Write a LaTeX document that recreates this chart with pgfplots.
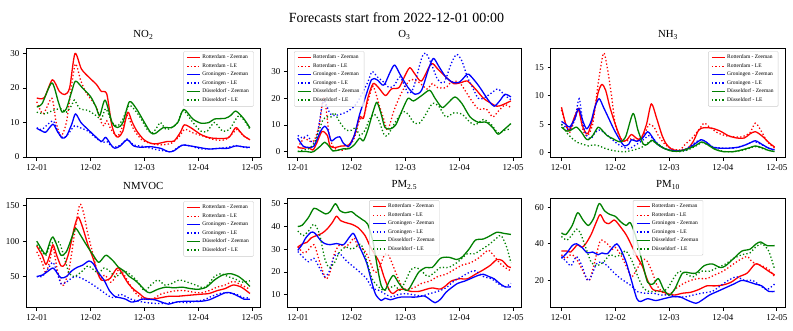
\documentclass[border=0pt]{standalone}
\usepackage{fontspec}
\setmainfont{Liberation Serif}
\usepackage{pgfplots}
\pgfplotsset{compat=1.18}
\definecolor{mred}{HTML}{FF0000}
\definecolor{mblue}{HTML}{0000FF}
\definecolor{mgreen}{HTML}{008000}

\pgfplotsset{
  panel/.style={
    scale only axis, width=234.7pt, height=109.3pt, anchor=south west,
    xmin=-0.2, xmax=4.16,
    xtick={0,1,2,3,4}, xticklabels={12-01,12-02,12-03,12-04,12-05},
    tick pos=left, tick align=outside, major tick length=3.2pt,
    tick style={black, line width=0.7pt},
    axis line style={line width=0.7pt},
    ticklabel style={font=\fontsize{9}{10}\selectfont},
    /pgf/number format/assume math mode=true,
    title style={font=\fontsize{10.8}{12}\selectfont, yshift=-1pt},
    legend style={font=\fontsize{5.5}{6.3}\selectfont, draw=black!20,
      fill=white, fill opacity=0.8, text opacity=1, rounded corners=1pt,
      nodes={inner sep=1.6pt}},
    legend cell align=left,
    legend image code/.code={\draw[#1, line width=1.2pt] (0pt,0pt) -- (13pt,0pt);},
  },
  zee/.style={line width=1.3pt, smooth, tension=0.45, line join=round},
  le/.style={line width=1.3pt, smooth, tension=0.45, dash pattern=on 1.3pt off 2.2pt},
  rz/.style={mred, zee}, rl/.style={mred, le},
  gz/.style={mblue, zee}, gl/.style={mblue, le},
  dz/.style={mgreen, zee}, dl/.style={mgreen, le},
}
\newcommand{\leg}{\legend{Rotterdam - Zeeman, Rotterdam - LE, Groningen - Zeeman, Groningen - LE, Düsseldorf - Zeeman, Düsseldorf - LE}}

\begin{document}
\begin{tikzpicture}
\useasboundingbox (0pt,0pt) rectangle (793pt,330pt);
\node[font=\fontsize{14}{16}\selectfont] at (396.5pt,312pt) {Forecasts start from 2022-12-01 00:00};

% NO2
\begin{axis}[panel, at={(26pt,172.7pt)}, ymin=-0.1, ymax=31.6, ytick={0,10,20,30},
  title={NO\textsubscript{2}}, legend pos=north east]
\addplot[rz] coordinates {(0,17.1)(0.14,17.2)(0.29,22.4)(0.42,19)(0.52,18.1)(0.61,20)(0.71,30)(0.83,25.5)(0.99,22.8)(1.11,21)(1.2,19)(1.3,18.3)(1.39,9.5)(1.46,6.3)(1.52,5.8)(1.6,7.5)(1.69,13)(1.77,10.2)(1.86,7.5)(1.99,5)(2.11,4)(2.22,3.8)(2.43,4.5)(2.55,4.6)(2.67,7.2)(2.74,9.3)(2.86,8.5)(3.05,6.5)(3.24,5.5)(3.55,5.5)(3.66,7.8)(3.71,8.5)(3.84,6.2)(3.96,5)};
\addplot[rl] coordinates {(0,16)(0.12,12.5)(0.28,17)(0.36,10)(0.45,6)(0.55,10)(0.64,20)(0.72,27)(0.82,22)(0.92,18.5)(1.02,16.5)(1.12,14)(1.2,10)(1.25,9)(1.3,10.5)(1.38,8)(1.5,6)(1.6,9)(1.68,12)(1.8,8)(1.95,5)(2.1,4)(2.3,3.5)(2.5,4)(2.65,6)(2.75,8)(2.9,7)(3.1,6)(3.3,5)(3.5,5)(3.65,7)(3.72,8)(3.85,6)(3.96,5)};
\addplot[gz] coordinates {(0,8.3)(0.1,7.5)(0.17,7.2)(0.3,9.5)(0.38,7.5)(0.47,5.5)(0.55,6)(0.65,9.5)(0.72,12.5)(0.82,10)(0.95,8)(1.05,6.5)(1.2,4.5)(1.28,5.7)(1.38,3.5)(1.45,2.5)(1.55,3.2)(1.68,5)(1.8,3.2)(1.95,2.8)(2.1,3)(2.3,2.5)(2.45,1.5)(2.55,1.8)(2.7,3.4)(2.85,3.2)(3.0,2.8)(3.2,2.3)(3.4,2.5)(3.55,2.5)(3.7,3.2)(3.85,2.9)(3.96,2.8)};
\addplot[gl] coordinates {(0,8.5)(0.1,8)(0.3,10.5)(0.4,7)(0.5,5.5)(0.6,7)(0.7,9)(0.8,8.5)(0.95,7.5)(1.1,5.5)(1.22,4.2)(1.3,4.5)(1.4,3)(1.5,3)(1.6,4)(1.68,5.2)(1.8,3.5)(2.0,3)(2.2,2.2)(2.35,1.8)(2.5,1.5)(2.6,2.5)(2.72,3.5)(2.9,3)(3.05,2.3)(3.3,2.4)(3.55,2.8)(3.7,3.3)(3.85,2.8)(3.96,2.6)};
\addplot[dz] coordinates {(0,14.5)(0.1,15.5)(0.28,21.5)(0.4,16)(0.47,13)(0.55,14)(0.65,19)(0.72,22)(0.85,20)(1.0,17.5)(1.1,14.5)(1.17,12)(1.27,16.5)(1.4,10)(1.5,8.5)(1.6,10)(1.72,16)(1.85,14)(2.0,10)(2.12,7)(2.2,6.8)(2.35,8.5)(2.5,8.5)(2.62,10)(2.73,13.8)(2.9,11)(3.05,9.8)(3.2,10)(3.3,11)(3.5,11.2)(3.6,12)(3.7,13.3)(3.85,11)(3.96,8.4)};
\addplot[dl] coordinates {(0,13)(0.15,12.5)(0.3,13.5)(0.45,14)(0.55,13)(0.65,15)(0.7,16.5)(0.8,14)(0.95,13.5)(1.1,12)(1.2,11)(1.28,14)(1.4,10)(1.5,9)(1.6,11)(1.72,15)(1.9,12)(2.05,8)(2.15,7)(2.25,9)(2.3,10)(2.4,8)(2.5,8.5)(2.62,10)(2.72,13.5)(2.9,10)(3.05,7.5)(3.17,7.5)(3.3,10)(3.45,7.5)(3.58,8)(3.7,11)(3.77,12)(3.88,10)(3.96,8)};
\leg
\end{axis}

% O3
\begin{axis}[panel, at={(287pt,172.7pt)}, ymin=-2.2, ymax=38.9, ytick={0,10,20,30},
  title={O\textsubscript{3}}, legend pos=north west]
\addplot[rz] coordinates {(0,1.5)(0.1,1.2)(0.2,1.5)(0.28,0.5)(0.35,3)(0.45,7.5)(0.55,6)(0.6,2)(0.7,1.5)(0.8,2)(0.95,2.5)(1.05,6)(1.15,13)(1.22,12.5)(1.3,20)(1.4,25.5)(1.5,24)(1.63,21)(1.74,23.5)(1.88,24)(1.98,28)(2.08,31.5)(2.18,29)(2.3,26.5)(2.48,33)(2.6,31)(2.75,28)(2.9,25.5)(3.05,26)(3.15,26.5)(3.3,23.5)(3.45,20)(3.6,18)(3.7,17)(3.8,17.5)(3.96,19)};
\addplot[rl] coordinates {(0,1.5)(0.12,5)(0.2,4)(0.3,4)(0.4,10)(0.47,20)(0.52,17)(0.58,7)(0.65,2)(0.75,0.5)(0.85,0.5)(0.95,2)(1.05,5)(1.15,12)(1.22,13)(1.32,20)(1.4,24.5)(1.52,17)(1.6,12)(1.67,8)(1.78,15)(1.88,20)(1.98,24)(2.1,27)(2.25,26)(2.4,23.5)(2.5,25.5)(2.6,24)(2.75,24)(2.85,26)(3.0,26)(3.2,20)(3.35,16)(3.5,16)(3.62,13)(3.72,15)(3.85,17.5)(3.96,16.5)};
\addplot[gz] coordinates {(0,5)(0.1,2)(0.2,1.5)(0.3,2)(0.42,7.5)(0.5,9.5)(0.56,8)(0.62,4)(0.7,5)(0.78,5.5)(0.85,3)(0.95,2)(1.05,6)(1.15,14)(1.25,20)(1.37,27)(1.47,27)(1.57,25)(1.62,25.5)(1.72,30)(1.8,32.5)(1.9,29)(2.05,24)(2.18,21.5)(2.3,23)(2.43,31)(2.52,35)(2.62,32)(2.75,28)(2.88,26)(3.0,26)(3.12,28.5)(3.18,29)(3.35,25)(3.55,19)(3.65,17)(3.75,19)(3.85,21.5)(3.96,20.5)};
\addplot[gl] coordinates {(0,6)(0.1,5)(0.18,6)(0.28,3)(0.35,5)(0.45,17)(0.5,19)(0.58,15)(0.65,13.5)(0.8,14)(0.92,15)(1.05,17)(1.15,20)(1.3,26)(1.38,30)(1.48,28)(1.6,26)(1.7,24)(1.8,25)(1.9,28)(2.05,22)(2.15,24)(2.3,35)(2.38,37)(2.5,32)(2.6,27)(2.72,26)(2.85,33)(2.95,36.5)(3.05,34)(3.15,28)(3.25,24)(3.35,20)(3.45,20)(3.6,22)(3.72,23.5)(3.85,21)(3.96,19.5)};
\addplot[dz] coordinates {(0,0)(0.15,0)(0.25,-0.3)(0.3,0)(0.42,2)(0.5,3.5)(0.58,2)(0.65,0.2)(0.75,0.5)(0.85,1)(0.95,1)(1.05,2.5)(1.15,5)(1.22,4)(1.3,8)(1.4,15)(1.47,18.5)(1.55,14)(1.62,9)(1.72,8.5)(1.82,10)(1.95,16)(2.05,20)(2.15,19)(2.3,21)(2.45,23)(2.55,20)(2.68,16.5)(2.78,18)(2.92,20.5)(3.05,18)(3.2,13)(3.35,11)(3.5,11)(3.62,9)(3.72,6.5)(3.82,8)(3.96,10.5)};
\addplot[dl] coordinates {(0,0)(0.1,0.5)(0.2,1)(0.3,3)(0.38,7)(0.47,12)(0.55,13)(0.62,13)(0.68,14.5)(0.78,11)(0.9,8)(1.0,8)(1.08,9)(1.15,6)(1.25,8)(1.33,12)(1.42,14)(1.5,12)(1.6,6.5)(1.67,6)(1.78,10)(1.95,15)(2.05,14)(2.15,11)(2.25,10.5)(2.35,13)(2.5,18)(2.62,17)(2.75,13)(2.9,14.5)(3.05,14)(3.2,11)(3.3,10)(3.45,12)(3.6,10)(3.72,7)(3.85,8)(3.96,8.5)};
\leg
\end{axis}

% NH3
\begin{axis}[panel, at={(550.7pt,172.7pt)}, ymin=-0.8, ymax=18.4, ytick={0,5,10,15},
  title={NH\textsubscript{3}}, legend pos=north east]
\addplot[rz] coordinates {(0,8)(0.08,5)(0.15,4)(0.25,6.5)(0.32,7.5)(0.38,5)(0.45,3.5)(0.5,3.5)(0.58,6)(0.68,10.5)(0.75,12)(0.82,11)(0.9,8)(1.0,5)(1.1,2.5)(1.15,2)(1.22,2.3)(1.3,3.2)(1.4,2.5)(1.48,2.5)(1.58,5)(1.67,8.6)(1.77,6)(1.87,3)(1.95,1.5)(2.05,0.6)(2.2,0.4)(2.35,0.8)(2.45,2)(2.55,4)(2.65,4.4)(2.8,4.3)(2.95,3.8)(3.1,3)(3.25,2.6)(3.4,2.6)(3.5,3.3)(3.6,3.7)(3.72,3)(3.85,1.8)(3.96,1)};
\addplot[rl] coordinates {(0,7.5)(0.08,5)(0.15,3.5)(0.25,6)(0.32,8)(0.4,4)(0.48,3)(0.58,5)(0.68,12)(0.78,17.5)(0.85,15)(0.93,10)(1.0,5)(1.1,2.5)(1.2,2)(1.3,2.5)(1.42,2.2)(1.55,3.5)(1.63,5)(1.72,4.5)(1.8,3)(1.92,1.5)(2.05,0.7)(2.2,0.5)(2.3,1.5)(2.42,2.5)(2.55,4)(2.65,5.2)(2.75,4.5)(2.9,3.5)(3.05,3)(3.2,2.8)(3.35,2.8)(3.5,3.5)(3.6,5.2)(3.7,4)(3.82,2)(3.96,0.8)};
\addplot[gz] coordinates {(0,5.5)(0.08,5)(0.15,4.5)(0.25,6)(0.32,7.8)(0.4,5.5)(0.47,4.2)(0.55,5.5)(0.62,8)(0.7,9.5)(0.78,8)(0.88,6)(0.98,4)(1.1,2)(1.17,1.2)(1.25,1.5)(1.3,2.3)(1.4,2)(1.5,2.5)(1.6,3.7)(1.67,3)(1.78,1.5)(1.9,0.8)(2.0,0.5)(2.15,0.3)(2.3,0.5)(2.4,1)(2.5,1.7)(2.6,2.3)(2.7,1.8)(2.8,1)(2.95,0.8)(3.1,0.8)(3.3,1)(3.45,1.5)(3.6,2.1)(3.72,1.5)(3.85,0.8)(3.96,0.5)};
\addplot[gl] coordinates {(0,5)(0.08,4.5)(0.15,4)(0.25,6)(0.33,9.5)(0.4,5)(0.47,3)(0.55,2.5)(0.62,3.5)(0.7,4)(0.8,3.5)(0.92,2.5)(1.05,1.5)(1.15,1)(1.25,0.7)(1.35,1.2)(1.45,1.8)(1.55,2.5)(1.62,3)(1.7,2.5)(1.8,1.5)(1.9,0.8)(2.0,0.5)(2.15,0.3)(2.3,0.6)(2.4,1.2)(2.52,2)(2.6,2.3)(2.7,1.8)(2.82,1)(3.0,0.8)(3.2,0.8)(3.35,1.2)(3.45,1.5)(3.58,2)(3.7,1.5)(3.85,0.8)(3.96,0.4)};
\addplot[dz] coordinates {(0,4.5)(0.1,3.8)(0.18,4)(0.28,4.5)(0.38,3.5)(0.45,2.5)(0.5,2.3)(0.58,3)(0.68,4.5)(0.75,4)(0.85,3)(0.95,2.5)(1.05,2)(1.12,2)(1.2,3)(1.33,6.9)(1.42,4)(1.52,1.5)(1.6,1.5)(1.68,2.2)(1.78,1.5)(1.9,0.8)(2.05,0.3)(2.2,0.3)(2.35,0.7)(2.5,1.3)(2.6,1.9)(2.7,1.5)(2.85,0.6)(3.0,0.2)(3.2,0.2)(3.35,0.5)(3.5,0.9)(3.6,1.2)(3.72,0.9)(3.85,0.4)(3.96,0.2)};
\addplot[dl] coordinates {(0,5)(0.1,3.5)(0.2,2.5)(0.3,1.8)(0.4,1.5)(0.5,1.2)(0.6,1.4)(0.7,1.2)(0.8,0.8)(0.95,0.4)(1.1,0.2)(1.2,0.2)(1.35,0.5)(1.5,1)(1.65,2)(1.75,1.8)(1.9,0.8)(2.05,0.3)(2.2,0.2)(2.35,0.5)(2.5,1.2)(2.62,1.8)(2.75,1.2)(2.9,0.5)(3.05,0.2)(3.2,0.2)(3.4,0.5)(3.55,1)(3.62,1.1)(3.78,0.6)(3.96,0.2)};
\leg
\end{axis}

% NMVOC
\begin{axis}[panel, at={(26pt,22.7pt)}, ymin=6.5, ymax=161, ytick={50,100,150},
  title={NMVOC}, legend pos=north east]
\addplot[rz] coordinates {(0,93)(0.1,80)(0.17,67)(0.24,80)(0.3,95)(0.37,80)(0.45,65)(0.52,67)(0.6,85)(0.7,120)(0.77,134)(0.85,120)(0.95,95)(1.05,75)(1.13,55)(1.2,45)(1.3,45)(1.37,48)(1.47,60)(1.52,62)(1.58,55)(1.7,40)(1.8,32)(1.92,25)(2.0,20)(2.15,18)(2.3,20)(2.45,22)(2.6,22)(2.75,23)(2.9,24)(3.05,25)(3.2,26)(3.35,30)(3.5,33)(3.65,38)(3.8,35)(3.96,26)};
\addplot[rl] coordinates {(0,85)(0.1,70)(0.17,55)(0.25,75)(0.3,92)(0.38,60)(0.45,40)(0.5,38)(0.6,60)(0.72,120)(0.8,152)(0.87,140)(0.95,110)(1.05,80)(1.13,55)(1.2,48)(1.27,52)(1.37,42)(1.45,48)(1.52,60)(1.6,55)(1.68,45)(1.8,30)(1.9,22)(2.0,18)(2.15,18)(2.3,25)(2.45,28)(2.6,30)(2.75,30)(2.9,28)(3.05,27)(3.2,30)(3.35,35)(3.5,38)(3.65,43)(3.8,38)(3.96,32)};
\addplot[gz] coordinates {(0,50)(0.1,52)(0.2,57)(0.3,62)(0.38,55)(0.45,48)(0.55,50)(0.65,58)(0.75,63)(0.85,66)(0.97,72)(1.05,68)(1.15,55)(1.25,45)(1.35,30)(1.45,22)(1.55,20)(1.65,18)(1.75,14)(1.85,15)(1.95,18)(2.05,18)(2.2,17)(2.35,13)(2.45,11)(2.6,14)(2.75,15)(2.9,15)(3.05,15)(3.2,17)(3.35,22)(3.5,27)(3.6,27)(3.75,22)(3.85,18)(3.96,18)};
\addplot[gl] coordinates {(0,50)(0.1,50)(0.2,60)(0.3,70)(0.38,55)(0.45,40)(0.55,42)(0.65,48)(0.75,50)(0.9,45)(1.05,38)(1.2,30)(1.35,22)(1.45,20)(1.55,25)(1.65,22)(1.75,18)(1.9,15)(2.05,13)(2.2,12)(2.35,12)(2.5,13)(2.65,14)(2.8,13)(2.95,15)(3.1,17)(3.25,22)(3.4,26)(3.55,27)(3.7,25)(3.85,20)(3.96,20)};
\addplot[dz] coordinates {(0,100)(0.12,85)(0.17,82)(0.25,100)(0.3,106)(0.37,95)(0.45,80)(0.55,85)(0.65,105)(0.72,118)(0.8,110)(0.92,95)(1.05,80)(1.15,70)(1.25,78)(1.3,80)(1.42,72)(1.52,63)(1.62,58)(1.72,50)(1.82,45)(1.92,38)(2.02,30)(2.1,27)(2.25,32)(2.4,35)(2.55,34)(2.7,35)(2.85,33)(3.0,32)(3.15,35)(3.3,45)(3.45,52)(3.6,54)(3.75,50)(3.88,42)(3.96,36)};
\addplot[dl] coordinates {(0,95)(0.1,85)(0.17,80)(0.25,95)(0.35,100)(0.42,98)(0.5,80)(0.6,55)(0.7,50)(0.85,58)(0.95,65)(1.05,60)(1.15,55)(1.25,62)(1.35,58)(1.45,50)(1.52,52)(1.6,58)(1.7,55)(1.85,45)(2.0,30)(2.12,38)(2.25,45)(2.38,38)(2.5,40)(2.65,45)(2.8,42)(2.95,38)(3.1,34)(3.2,40)(3.3,50)(3.42,54)(3.55,50)(3.7,46)(3.8,42)(3.96,44)};
\leg
\end{axis}

% PM2.5
\begin{axis}[panel, at={(287pt,22.7pt)}, ymin=4.5, ymax=52.5, ytick={10,20,30,40,50},
  title={PM\textsubscript{2.5}}, legend style={at={(0.5,0.98)}, anchor=north}]
\addplot[rz] coordinates {(0,31)(0.1,32.5)(0.17,33)(0.25,35)(0.35,36)(0.45,37)(0.55,39)(0.65,42)(0.72,44.5)(0.8,42.5)(0.92,41.5)(1.0,41)(1.12,39.5)(1.25,36)(1.35,31)(1.45,27)(1.52,24)(1.6,18)(1.7,12)(1.77,10.5)(1.85,12)(1.95,12.5)(2.1,11.5)(2.25,11.5)(2.4,12.5)(2.5,13)(2.65,12.5)(2.75,14)(2.85,16)(3.0,17)(3.15,17)(3.3,19)(3.45,21)(3.58,23)(3.7,25.5)(3.8,25)(3.9,22.5)(3.96,22)};
\addplot[rl] coordinates {(0,31)(0.1,28.5)(0.17,29)(0.3,32)(0.4,25)(0.52,17)(0.6,20)(0.68,28)(0.78,32)(0.88,31)(0.98,33)(1.05,35)(1.12,31)(1.22,30)(1.32,26)(1.42,20)(1.5,21)(1.6,27)(1.67,28)(1.75,24)(1.85,18)(1.95,13)(2.05,12.5)(2.15,13)(2.3,15)(2.45,16)(2.6,18)(2.75,19)(2.9,21)(3.05,23)(3.2,24)(3.35,26)(3.5,29)(3.55,29.5)(3.65,27)(3.75,24)(3.85,22)(3.96,20.5)};
\addplot[gz] coordinates {(0,29.5)(0.08,32)(0.15,35)(0.25,37.5)(0.32,37)(0.42,34)(0.5,32.5)(0.6,32)(0.72,32.5)(0.85,32)(0.95,35)(1.03,37)(1.1,34)(1.17,30)(1.28,24)(1.38,15)(1.45,10)(1.55,7.5)(1.62,8.5)(1.72,7.8)(1.82,8.5)(1.92,9)(2.05,9)(2.2,9)(2.35,9.5)(2.45,8)(2.55,6.5)(2.65,8)(2.75,11)(2.85,13)(2.97,15)(3.1,16)(3.2,17)(3.35,18.5)(3.45,19)(3.55,18)(3.65,17)(3.75,15)(3.85,13.5)(3.96,13.5)};
\addplot[gl] coordinates {(0,29)(0.1,26.5)(0.2,24.5)(0.3,26)(0.4,22)(0.5,18)(0.58,20)(0.68,27)(0.78,28)(0.9,25)(1.05,22)(1.15,20)(1.28,17)(1.38,13)(1.5,12)(1.65,10)(1.75,9)(1.85,10)(2.0,10.5)(2.15,10)(2.3,9.5)(2.45,10.5)(2.6,11.5)(2.75,13)(2.9,16)(3.05,18)(3.2,20)(3.3,20.5)(3.45,18)(3.6,17)(3.75,14.5)(3.85,13.5)(3.96,15)};
\addplot[dz] coordinates {(0,40)(0.08,40.5)(0.2,44)(0.3,48)(0.4,47)(0.52,45.5)(0.6,46.5)(0.7,50)(0.78,47)(0.88,46)(1.0,46.5)(1.08,45)(1.2,43)(1.3,41)(1.4,33)(1.48,22)(1.55,14)(1.62,12)(1.7,16)(1.78,18.5)(1.88,15)(1.97,12.5)(2.05,12)(2.15,16)(2.25,20)(2.38,22)(2.5,22)(2.65,26)(2.8,26.5)(2.95,25.5)(3.05,26.5)(3.18,30)(3.3,34)(3.45,34.5)(3.58,36)(3.7,37.5)(3.82,37)(3.96,36.5)};
\addplot[dl] coordinates {(0,38)(0.1,36)(0.2,38)(0.3,41)(0.4,37)(0.5,26)(0.58,22)(0.68,24)(0.78,29)(0.9,31)(1.0,30)(1.08,31)(1.18,32)(1.28,25)(1.38,17)(1.48,14)(1.58,12)(1.68,12.5)(1.8,14)(1.9,12)(2.0,16)(2.1,21)(2.2,22)(2.32,20)(2.42,18)(2.55,20)(2.65,22)(2.8,22)(2.95,24)(3.05,26)(3.15,28)(3.28,28)(3.42,30)(3.55,32)(3.7,35)(3.78,36)(3.88,31)(3.96,24)};
\leg
\end{axis}

% PM10
\begin{axis}[panel, at={(550.7pt,22.7pt)}, ymin=5.3, ymax=65, ytick={20,40,60},
  title={PM\textsubscript{10}}, legend style={at={(0.5,0.98)}, anchor=north}]
\addplot[rz] coordinates {(0,36)(0.1,36)(0.17,35.5)(0.25,38)(0.3,39.5)(0.38,38)(0.45,40)(0.55,45)(0.65,52)(0.72,56)(0.8,52)(0.88,51)(0.98,53)(1.05,51)(1.2,45)(1.32,38)(1.42,32)(1.5,28)(1.6,20)(1.7,15)(1.85,14)(2.0,12.5)(2.1,12)(2.25,13)(2.4,13.5)(2.55,15)(2.7,17)(2.85,17)(3.0,17.5)(3.15,19)(3.3,22)(3.45,24)(3.6,29)(3.7,28)(3.85,25)(3.96,23)};
\addplot[rl] coordinates {(0,34)(0.08,32)(0.17,34)(0.25,33)(0.35,28)(0.45,22)(0.52,20)(0.6,28)(0.7,40)(0.75,42)(0.85,40)(0.95,37)(1.0,38)(1.1,34)(1.2,28)(1.3,22)(1.38,25)(1.5,31)(1.58,31)(1.68,25)(1.78,17)(1.9,13)(2.0,12)(2.1,15)(2.25,18)(2.4,20)(2.55,21)(2.7,21)(2.85,23)(3.0,25)(3.15,28)(3.3,31)(3.45,33)(3.55,30)(3.72,28)(3.85,26)(3.96,22)};
\addplot[gz] coordinates {(0,32)(0.1,35)(0.2,39)(0.28,40)(0.38,38)(0.48,35)(0.58,35.5)(0.68,34)(0.75,35)(0.85,34.5)(0.95,38)(1.03,40)(1.1,37)(1.2,30)(1.3,20)(1.4,10)(1.47,8.5)(1.6,10)(1.75,9)(1.9,10)(2.05,11)(2.2,11)(2.35,9)(2.5,7.5)(2.6,9)(2.75,12)(2.9,14)(3.05,16)(3.2,18)(3.35,20)(3.5,19)(3.6,18)(3.72,17)(3.85,14)(3.96,14)};
\addplot[gl] coordinates {(0,33)(0.1,30)(0.18,28)(0.28,33)(0.38,28)(0.48,20)(0.55,22)(0.65,29)(0.75,30)(0.85,28)(0.98,24)(1.1,21)(1.2,19)(1.3,17)(1.4,14)(1.55,13)(1.7,13)(1.85,12)(2.0,12)(2.15,11)(2.3,11)(2.45,12)(2.6,13)(2.8,14)(2.95,17)(3.1,20)(3.25,22)(3.4,20)(3.55,20)(3.7,17)(3.82,15)(3.96,18)};
\addplot[dz] coordinates {(0,46)(0.08,45)(0.2,50)(0.3,57)(0.4,53)(0.5,50)(0.6,54)(0.7,62)(0.8,58)(0.9,56)(1.0,55)(1.1,52)(1.2,50)(1.28,51.5)(1.38,44)(1.5,30)(1.6,19)(1.7,18)(1.8,21)(1.9,15)(2.0,12)(2.1,15)(2.25,24)(2.4,24)(2.5,24)(2.65,28)(2.8,29)(2.95,27)(3.05,28)(3.2,32)(3.35,36)(3.5,37)(3.62,40)(3.7,41)(3.82,39)(3.96,39)};
\addplot[dl] coordinates {(0,44)(0.1,42)(0.2,45)(0.28,48)(0.35,46)(0.45,38)(0.55,30)(0.65,28)(0.78,30)(0.9,34)(1.0,33)(1.1,34)(1.2,36)(1.32,30)(1.42,22)(1.52,16)(1.62,14)(1.75,14)(1.88,14)(1.98,16)(2.1,22)(2.2,25)(2.35,23)(2.45,22)(2.6,25)(2.75,25)(2.9,27)(3.05,29)(3.2,32)(3.35,34)(3.5,35)(3.6,38)(3.72,40)(3.85,36)(3.96,26)};
\leg
\end{axis}
\end{tikzpicture}
\end{document}
